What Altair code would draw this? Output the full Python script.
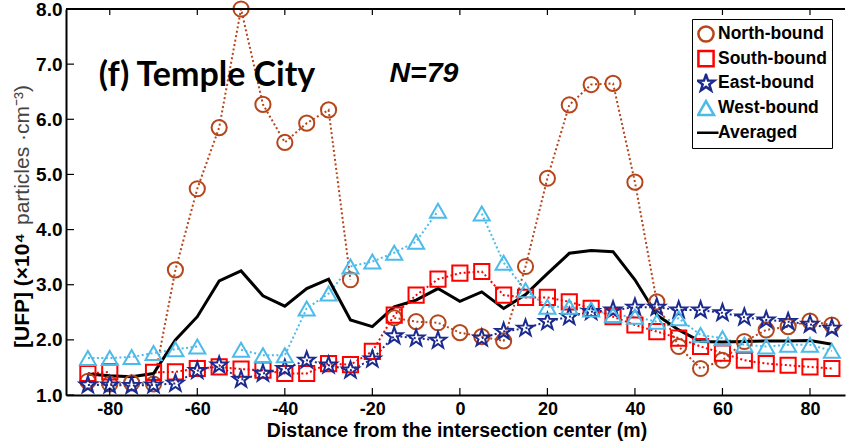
import altair as alt
import pandas as pd

# Distance from the intersection center (m)
distance = [-85, -80, -75, -70, -65, -60, -55, -50, -45, -40, -35, -30, -25, -20, -15, -10, -5, 0,
            5, 10, 15, 20, 25, 30, 35, 40, 45, 50, 55, 60, 65, 70, 75, 80, 85]

# [UFP] (x10^4 particles/cm^3) per travel direction; None = no measurement
north = [1.25, 1.20, 1.22, 1.20, 3.27, 4.74, 5.85, 8.00, 6.27, 5.58, 5.93, 6.17, 3.09, None, 2.40, 2.33, 2.31, 2.13,
         2.06, 1.98, 3.33, 4.93, 6.26, 6.63, 6.65, 4.86, 2.69, 1.88, 1.48, 1.63, 1.97, 2.18, 2.24, 2.34, 2.27]
south = [1.39, 1.42, None, 1.41, 1.42, 1.48, 1.51, 1.47, 1.45, 1.39, 1.39, 1.57, 1.55, 1.79, 2.45, 2.81, 3.10, 3.21,
         3.24, 2.81, 2.77, 2.77, 2.69, 2.57, 2.42, 2.27, 2.15, 2.03, 1.88, 1.76, 1.63, 1.57, 1.54, 1.51, 1.48]
east = [1.18, 1.18, 1.17, 1.18, 1.21, 1.44, 1.54, 1.28, 1.39, 1.48, 1.63, 1.54, 1.45, 1.65, 2.07, 2.03, 1.99, None,
        2.03, 2.15, 2.21, 2.33, 2.42, 2.51, 2.54, 2.59, 2.59, 2.54, 2.54, 2.49, 2.41, 2.36, 2.33, 2.28, 2.21]
west = [1.67, 1.67, 1.69, 1.76, 1.83, 1.88, None, 1.82, 1.72, 1.72, 2.57, 2.84, 3.33, 3.42, 3.58, 3.78, 4.34, None,
        4.29, 3.40, 2.90, 2.60, 2.60, 2.55, 2.45, 2.42, 2.33, 2.39, 2.09, 2.03, 1.91, 1.88, 1.91, 1.91, 1.80]
averaged = [1.38, 1.35, 1.33, 1.39, 2.00, 2.42, 3.07, 3.25, 2.80, 2.61, 2.93, 3.10, 2.36, 2.24, 2.60, 2.72, 2.93, 2.70,
            2.87, 2.57, 2.82, 3.20, 3.57, 3.62, 3.60, 3.09, 2.45, 2.18, 1.97, 1.96, 1.97, 1.98, 1.98, 1.99, 1.92]

series_names = ["North-bound", "South-bound", "East-bound", "West-bound", "Averaged"]
series_colors = ["#B5461B", "#FF0000", "#1B2A8E", "#4CBBEA", "#000000"]

# Marker outlines as unit-square SVG paths (pentagram, triangle, short dash for the mean line)
STAR = ("M0,-1.15L0.27,-0.373L1.094,-0.355L0.437,0.143L0.676,0.93L0,0.46"
        "L-0.676,0.93L-0.437,0.143L-1.094,-0.355L-0.27,-0.373Z")
TRIANGLE = "M0,-0.92L1.06,0.92L-1.06,0.92Z"
DASH = "M-1.65,0L1.65,0"
series_shapes = ["circle", "square", STAR, TRIANGLE, DASH]

x_ticks = [-80, -60, -40, -20, 0, 20, 40, 60, 80]
y_ticks = [1, 2, 3, 4, 5, 6, 7, 8]

# Long table; a missing value breaks the line into separate segments
rows = []
for name, values in zip(series_names, [north, south, east, west, averaged]):
    seg = 0
    for d, v in zip(distance, values):
        if v is None:
            seg += 1
            continue
        rows.append({"distance": d, "series": name, "ufp": v, "segment": f"{name}-{seg}"})
df = pd.DataFrame(rows)

W, H = 779, 386
FONT = "Liberation Sans"
x_scale = alt.Scale(domain=[-90, 88], nice=False, zero=False)
y_scale = alt.Scale(domain=[1, 8], nice=False, zero=False)

x_enc = alt.X("distance:Q", scale=x_scale,
              axis=alt.Axis(values=x_ticks, ticks=False, grid=False, domainWidth=2, domainColor="black",
                            labelExpr="replace(datum.label, '\u2212', '-')",
                            labelFont=FONT, labelFontSize=18, labelFontWeight="bold", labelColor="black",
                            labelPadding=5,
                            title="Distance from the intersection center (m)",
                            titleFont=FONT, titleFontSize=19.5, titleFontWeight="bold", titleColor="black",
                            titleBaseline="alphabetic", titleY=41, titleX=W / 2 + 1))
y_enc = alt.Y("ufp:Q", scale=y_scale,
              axis=alt.Axis(values=y_ticks, format=".1f", ticks=False, grid=False, domainWidth=2,
                            domainColor="black",
                            labelFont=FONT, labelFontSize=19, labelFontWeight="bold", labelColor="black",
                            labelPadding=4, title=None))
color_enc = alt.Color("series:N",
                      scale=alt.Scale(domain=series_names, range=series_colors),
                      legend=alt.Legend(title=None))
shape_enc = alt.Shape("series:N",
                      scale=alt.Scale(domain=series_names, range=series_shapes),
                      legend=alt.Legend(title=None))

directional = df[df["series"] != "Averaged"].reset_index(drop=True)
mean_line = df[df["series"] == "Averaged"].reset_index(drop=True)

dotted = alt.Chart(directional).mark_line(strokeDash=[2, 2.5], strokeWidth=2).encode(
    x=x_enc, y=y_enc, color=color_enc, detail="segment:N")

avg = alt.Chart(mean_line).mark_line(strokeWidth=3).encode(
    x=x_enc, y=y_enc, color=color_enc, detail="segment:N")

points = alt.Chart(directional).mark_point(filled=False, strokeWidth=2, size=230, opacity=1).encode(
    x=x_enc, y=y_enc, color=color_enc, shape=shape_enc)

# Inward tick marks on the left, bottom and top edges
xt = pd.DataFrame({"tick": x_ticks})
yt = pd.DataFrame({"tick": y_ticks})
bottom_ticks = alt.Chart(xt).mark_rule(color="black", strokeWidth=1.2).encode(
    x=alt.X("tick:Q", scale=x_scale), y=alt.value(H), y2=alt.value(H - 7))
top_ticks = alt.Chart(xt).mark_rule(color="black", strokeWidth=1.2).encode(
    x=alt.X("tick:Q", scale=x_scale), y=alt.value(0), y2=alt.value(6))
left_ticks = alt.Chart(yt).mark_rule(color="black", strokeWidth=1.2).encode(
    y=alt.Y("tick:Q", scale=y_scale), x=alt.value(0), x2=alt.value(8))
top_frame = alt.Chart(pd.DataFrame({"edge": [0]})).mark_rule(color="black", strokeWidth=2).encode(
    x=alt.value(0), x2=alt.value(W), y=alt.value(0))

# Y-axis title: bold quantity, light units
ytitle_bold = alt.Chart(pd.DataFrame({"t": ["[UFP] (\u00d710\u2074"]})).mark_text(
    font=FONT, fontSize=21, fontWeight="bold", color="black", angle=270,
    align="left", baseline="alphabetic"
).encode(text="t:N", x=alt.value(-37), y=alt.value(339))
ytitle_units = alt.Chart(pd.DataFrame({"t": ["particles \u00b7cm\u207b\u00b3)"]})).mark_text(
    font=FONT, fontSize=21, fontWeight="normal", color="#444444", angle=270,
    align="left", baseline="alphabetic"
).encode(text="t:N", x=alt.value(-37), y=alt.value(216))

site = alt.Chart(pd.DataFrame({"t": ["(f) Temple City"]})).mark_text(
    font="Lato", fontSize=34, fontWeight="bold", color="black", align="center", baseline="alphabetic"
).encode(text="t:N", x=alt.value(141), y=alt.value(77))
count = alt.Chart(pd.DataFrame({"t": ["N=79"]})).mark_text(
    font=FONT, fontSize=28.5, fontWeight="bold", fontStyle="italic", color="black",
    align="center", baseline="alphabetic"
).encode(text="t:N", x=alt.value(358), y=alt.value(73))

chart = alt.layer(
    dotted, avg, points, bottom_ticks, top_ticks, left_ticks, top_frame,
    ytitle_bold, ytitle_units, site, count
).properties(
    width=W, height=H,
    autosize=alt.AutoSizeParams(type="none"),
    padding={"left": 66, "top": 9, "right": 1, "bottom": 46},
).configure_view(
    stroke=None
).configure_legend(
    orient="none", legendX=626, legendY=10,
    strokeColor="black", padding=5, fillColor="white",
    labelFont=FONT, labelFontSize=17.5, labelFontWeight="bold", labelColor="black",
    symbolSize=230, symbolStrokeWidth=2.5, rowPadding=4.7, clipHeight=20, labelOffset=3,
)

chart.save("out.html", embed_options={"renderer": "svg", "actions": False})
